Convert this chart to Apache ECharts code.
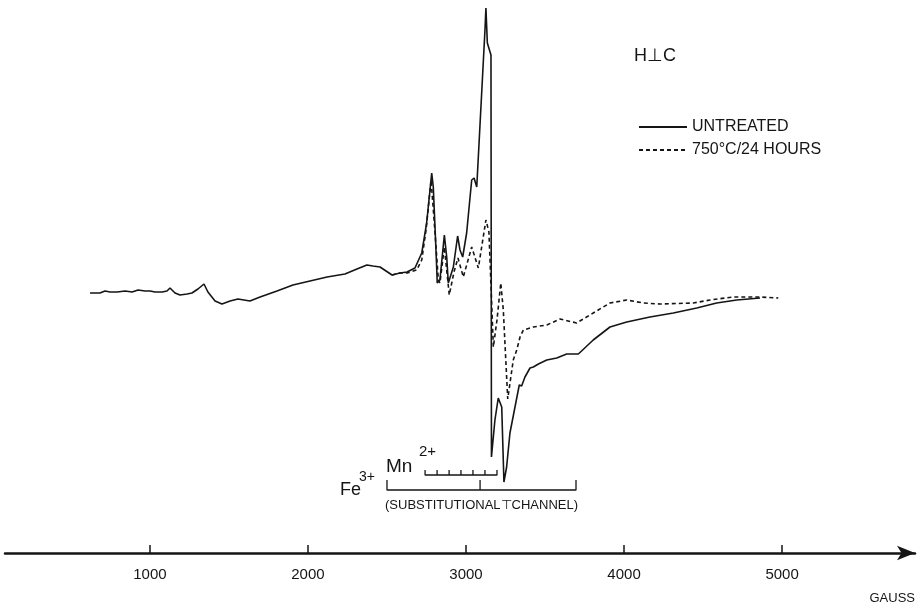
<!DOCTYPE html>
<html>
<head>
<meta charset="utf-8">
<script src="https://cdn.jsdelivr.net/npm/echarts@6/dist/echarts.min.js"></script>
<style>
  html, body { margin: 0; padding: 0; background: #fff; }
  #epr_chart { width: 922px; height: 614px; }
</style>
</head>
<body>
<div id="epr_chart"></div>
<script>
// field positions (gauss) and signal (arbitrary units)
var gaussUntreated = [621, 684, 716, 748, 792, 843, 887, 925, 969, 1001, 1032, 1077, 1108, 1127, 1159, 1190, 1235, 1266, 1304, 1342,
    1367, 1412, 1456, 1507, 1557, 1633, 1697, 1804, 1905, 2013, 2121, 2234, 2310, 2373, 2411, 2456, 2532, 2582, 2627, 2677,
    2720, 2751, 2783, 2793, 2810, 2818, 2835, 2863, 2878, 2888, 2920, 2947, 2962, 2979, 3004, 3036, 3051, 3068, 3120, 3126,
    3135, 3158, 3161, 3183, 3204, 3215, 3226, 3240, 3257, 3278, 3310, 3337, 3352, 3373, 3405, 3426, 3458, 3511, 3574, 3637,
    3711, 3805, 3911, 4017, 4164, 4312, 4460, 4586, 4713, 4860];
var sigUntreated = [0, 0, 2, 1, 1, 2, 1, 3, 2, 2, 1, 1, 2, 5, 0, -2, -1, 0, 4, 9,
    1, -8, -11, -8, -6, -8, -4, 2, 8, 12, 16, 19, 24, 28, 27, 26, 18, 20, 21, 25,
    40, 70, 120, 106, 43, 10, 13, 58, 36, 10, 26, 57, 43, 36, 60, 113, 115, 106, 263, 285,
    250, 238, -164, -127, -105, -104, -114, -189, -174, -140, -114, -92, -93, -84, -75, -74, -71, -67, -65, -61,
    -61, -47, -34, -29, -24, -20, -15, -10, -7, -5];

var gaussAnnealed = [2532, 2582, 2627, 2688, 2720, 2747, 2779, 2804, 2825, 2835, 2863, 2894, 2924, 2949, 2983, 3036, 3078, 3126, 3145, 3173,
    3196, 3220, 3236, 3264, 3299, 3321, 3342, 3363, 3426, 3511, 3595, 3700, 3805, 3911, 4017, 4122, 4228, 4438, 4544, 4691,
    4860, 4976];
var sigAnnealed = [18, 20, 20, 23, 33, 63, 113, 60, 13, 10, 46, -2, 21, 35, 16, 46, 25, 73, 61, -54,
    -27, 10, -17, -106, -67, -57, -44, -37, -34, -32, -26, -30, -20, -10, -7, -10, -11, -10, -7, -4,
    -4, -5];

var axisTicks = [1000, 2000, 3000, 4000, 5000];

// Fe3+ and Mn2+ line positions (gauss)
var feMarks = [2500, 3089, 3696];
var mnMarks = [2741, 2817, 2893, 2968, 3044, 3120, 3196];

var seriesNames = ['UNTREATED', '750°C/24 HOURS'];

var epr_chart = echarts.init(document.getElementById('epr_chart'));

function pairs(xs, ys) {
    var out = [];
    for (var i = 0; i < xs.length; i++) {
        out.push([xs[i], ys[i]]);
    }
    return out;
}

// bracket drawn as one zigzag line: base -> tick up -> back down -> next
function bracket(marks, base, top) {
    var out = [];
    for (var i = 0; i < marks.length; i++) {
        out.push([marks[i], base]);
        out.push([marks[i], top]);
        out.push([marks[i], base]);
    }
    return out;
}

var ink = '#151515';
var font = '"Liberation Sans", Arial, sans-serif';

var option = {
    animation: false,
    backgroundColor: '#fff',
    grid: {
        left: 5,
        right: 7,
        top: 0,
        bottom: 61
    },
    legend: {
        data: seriesNames,
        orient: 'vertical',
        left: 633,
        top: 114,
        itemWidth: 48,
        itemHeight: 14,
        itemGap: 7,
        itemStyle: { opacity: 0 },
        textStyle: { color: ink, fontSize: 16, fontFamily: font }
    },
    xAxis: {
        type: 'value',
        min: 83,
        max: 5841,
        splitLine: { show: false },
        axisLine: {
            onZero: false,
            symbol: ['none', 'arrow'],
            symbolSize: [11, 18],
            lineStyle: { color: ink, width: 2.5 }
        },
        axisTick: {
            customValues: axisTicks,
            inside: true,
            length: 8,
            lineStyle: { color: ink, width: 1.5 }
        },
        axisLabel: {
            customValues: axisTicks,
            margin: 14,
            color: ink,
            fontSize: 15,
            fontFamily: '"Liberation Sans Narrow", "Liberation Sans", sans-serif',
            formatter: function (v) { return String(v); }
        }
    },
    yAxis: {
        type: 'value',
        min: -260,
        max: 293,
        show: false
    },
    graphic: [
        { type: 'text', left: 634, top: 47, style: { text: 'H⊥C', fill: ink, font: '18px ' + font } },
        { type: 'text', left: 340, top: 481, style: { text: 'Fe', fill: ink, font: '18px ' + font } },
        { type: 'text', left: 359, top: 470, style: { text: '3+', fill: ink, font: '14px ' + font } },
        { type: 'text', left: 386, top: 457, style: { text: 'Mn', fill: ink, font: '19px ' + font } },
        { type: 'text', left: 419, top: 444, style: { text: '2+', fill: ink, font: '15px ' + font } },
        { type: 'text', left: 385, top: 499, style: { text: '(SUBSTITUTIONAL⊤CHANNEL)', fill: ink, font: '13px ' + font } },
        { type: 'text', right: 7, top: 592, style: { text: 'GAUSS', fill: ink, font: '13px ' + font } }
    ],
    series: [
        {
            name: seriesNames[0],
            type: 'line',
            symbol: 'none',
            data: pairs(gaussUntreated, sigUntreated),
            lineStyle: { color: ink, width: 1.6 },
            itemStyle: { color: ink },
            z: 3
        },
        {
            name: seriesNames[1],
            type: 'line',
            symbol: 'none',
            data: pairs(gaussAnnealed, sigAnnealed),
            lineStyle: { color: ink, width: 1.6, type: [4, 3] },
            itemStyle: { color: ink },
            z: 2
        },
        {
            name: 'Fe',
            type: 'line',
            symbol: 'none',
            silent: true,
            data: bracket(feMarks, -197, -187),
            lineStyle: { color: ink, width: 1.3 }
        },
        {
            name: 'Mn',
            type: 'line',
            symbol: 'none',
            silent: true,
            data: bracket(mnMarks, -182, -177),
            lineStyle: { color: ink, width: 1.3 }
        }
    ]
};

epr_chart.setOption(option);
</script>
</body>
</html>
